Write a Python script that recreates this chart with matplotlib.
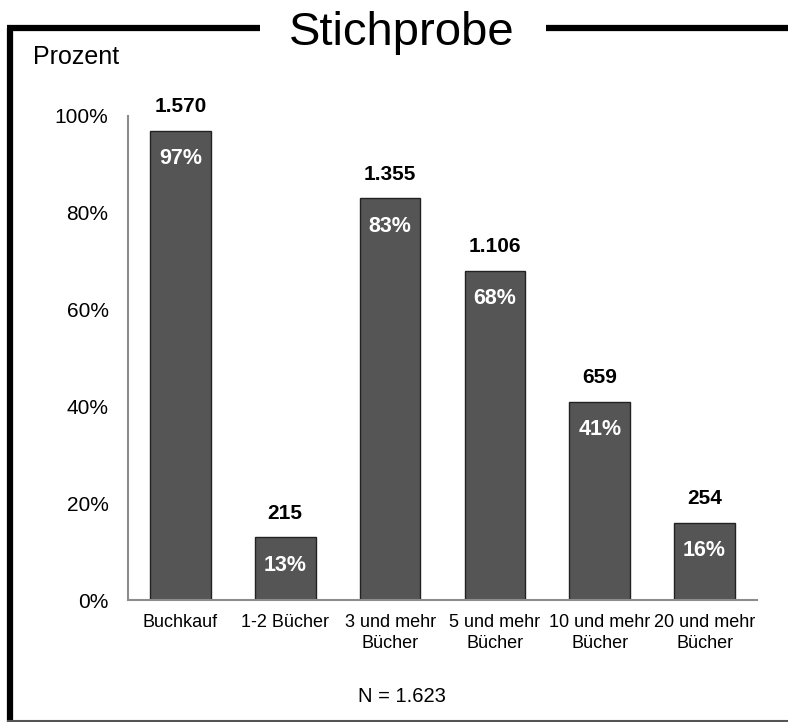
import matplotlib.pyplot as plt
from matplotlib.lines import Line2D

plt.rcParams['font.family'] = ['Liberation Sans', 'DejaVu Sans']

# Stichprobe: Anteil und Anzahl der Befragten je Kategorie
categories = ['Buchkauf', '1-2 Bücher', '3 und mehr\nBücher', '5 und mehr\nBücher',
              '10 und mehr\nBücher', '20 und mehr\nBücher']
percent = [97, 13, 83, 68, 41, 16]
counts = [1570, 215, 1355, 1106, 659, 254]
n_total = 1623
yticks = [0, 20, 40, 60, 80, 100]


def de_thousands(v):
    return f'{v:,}'.replace(',', '.')


W, H = 788, 722
fig = plt.figure(figsize=(W / 100, H / 100), dpi=100)
ax = fig.add_axes([128 / W, 1 - 600 / H, 629 / W, 484 / H])

x = range(len(categories))
bars = ax.bar(x, percent, width=0.58, color='#555555', edgecolor='#222222', linewidth=1)

for xi, p, c in zip(x, percent, counts):
    ax.annotate(f'{p}%', (xi, p), xytext=(0, -28), textcoords='offset pixels',
                ha='center', va='center', color='white', fontsize=15.5, fontweight='bold')
    ax.annotate(de_thousands(c), (xi, p), xytext=(0, 24), textcoords='offset pixels',
                ha='center', va='center', color='black', fontsize=15, fontweight='bold')

ax.set_xlim(-0.5, len(categories) - 0.5)
ax.set_ylim(0, 100)
ax.set_xticks(list(x))
ax.set_xticklabels(categories, fontsize=13, linespacing=1.3)
ax.set_yticks(yticks)
ax.set_yticklabels([f'{t}%' for t in yticks], fontsize=15)
ax.tick_params(length=0)
ax.tick_params(axis='y', pad=14)
ax.tick_params(axis='x', pad=10)
for side in ['top', 'right']:
    ax.spines[side].set_visible(False)
for side in ['left', 'bottom']:
    ax.spines[side].set_color('#8c8c8c')
    ax.spines[side].set_linewidth(1.5)

# Rahmen um die Grafik, oben unterbrochen vom Titel
def px(xp, yp):
    return xp / W, 1 - yp / H

frame = [
    ([10, 10], [28, 722], 'black', 4.5),
    ([7, 260], [28, 28], 'black', 4.5),
    ([546, 788], [28, 28], 'black', 4.5),
    ([7, 788], [720.5, 720.5], '#555555', 1.5),
]
for xs, ys, col, lw in frame:
    xf = [xp / W for xp in xs]
    yf = [1 - yp / H for yp in ys]
    fig.add_artist(Line2D(xf, yf, color=col, linewidth=lw, solid_capstyle='butt'))

fig.text(*px(402, 33), 'Stichprobe', ha='center', va='center', fontsize=34)
fig.text(*px(33, 57), 'Prozent', ha='left', va='center', fontsize=18)
fig.text(*px(402, 697), f'N = {de_thousands(n_total)}', ha='center', va='center', fontsize=14.5)

fig.savefig('out.png', dpi=100, facecolor='white')
